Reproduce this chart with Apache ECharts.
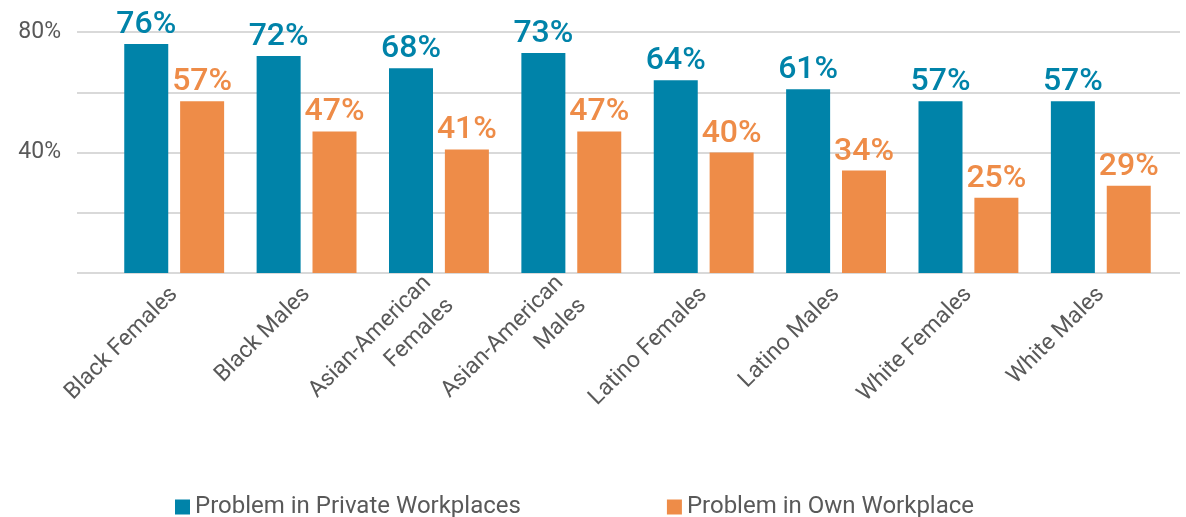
<!DOCTYPE html>
<html><head><meta charset="utf-8">
<script src="https://cdn.jsdelivr.net/npm/echarts@6/dist/echarts.min.js"></script>
<style>html,body{margin:0;padding:0;background:#fff}#c{width:1186px;height:517px}</style>
</head><body><div id="c"></div>
<script>
const categories = ['Black Females','Black Males','Asian-American\nFemales','Asian-American\nMales','Latino Females','Latino Males','White Females','White Males'];
const privateVals = [76,72,68,73,64,61,57,57];
const ownVals = [57,47,41,47,40,34,25,29];
const seriesNames = ['Problem in Private Workplaces','Problem in Own Workplace'];
const yTicks = [0,20,40,60,80];
const yLabelsShown = [40,80];

const BLUE = '#0083A9', ORANGE = '#EE8C48', GRAY = '#595959';
const FONT = 'Roboto';
const chart = echarts.init(document.getElementById('c'));
const yBase = {type:'value', min:yTicks[0], max:yTicks[yTicks.length-1], interval:yTicks[1]-yTicks[0]};
chart.setOption({
  animation:false,
  textStyle:{fontFamily:FONT},
  grid:[
    {left:108, right:19, top:32, bottom:244, containLabel:false},
    {left:77, right:6, top:32, bottom:244, containLabel:false}
  ],
  legend:{
    top:490, left:170, itemWidth:15, itemHeight:15, itemGap:146,
    textStyle:{fontFamily:FONT, fontSize:24, color:GRAY},
    data:seriesNames, icon:'rect'
  },
  xAxis:[
    {type:'category', gridIndex:0, data:categories,
     axisLine:{show:false}, axisTick:{show:false},
     axisLabel:{rotate:45, interval:0, fontSize:23, color:GRAY, fontFamily:FONT, margin:18, lineHeight:32, align:'right'}},
    {type:'category', gridIndex:1, data:categories, show:false}
  ],
  yAxis:[
    Object.assign({gridIndex:0, show:false, splitLine:{show:false}}, yBase),
    Object.assign({gridIndex:1, axisLine:{show:false}, axisTick:{show:false},
      splitLine:{show:true, lineStyle:{color:'#D9D9D9', width:2}},
      axisLabel:{fontSize:23, color:GRAY, fontFamily:FONT, margin:16,
        formatter:v=> yLabelsShown.indexOf(v)>=0 ? v+'%' : ''}}, yBase)
  ],
  series:[
    {name:seriesNames[0], type:'bar', xAxisIndex:0, yAxisIndex:0, data:privateVals,
     barWidth:44, barGap:'27%', itemStyle:{color:BLUE},
     label:{show:true, position:'top', distance:3, formatter:'{c}%', color:BLUE, fontSize:32, fontWeight:500, fontFamily:FONT}},
    {name:seriesNames[1], type:'bar', xAxisIndex:0, yAxisIndex:0, data:ownVals,
     barWidth:44, itemStyle:{color:ORANGE},
     label:{show:true, position:'top', distance:3, formatter:'{c}%', color:ORANGE, fontSize:32, fontWeight:500, fontFamily:FONT}}
  ]
});
</script></body></html>
